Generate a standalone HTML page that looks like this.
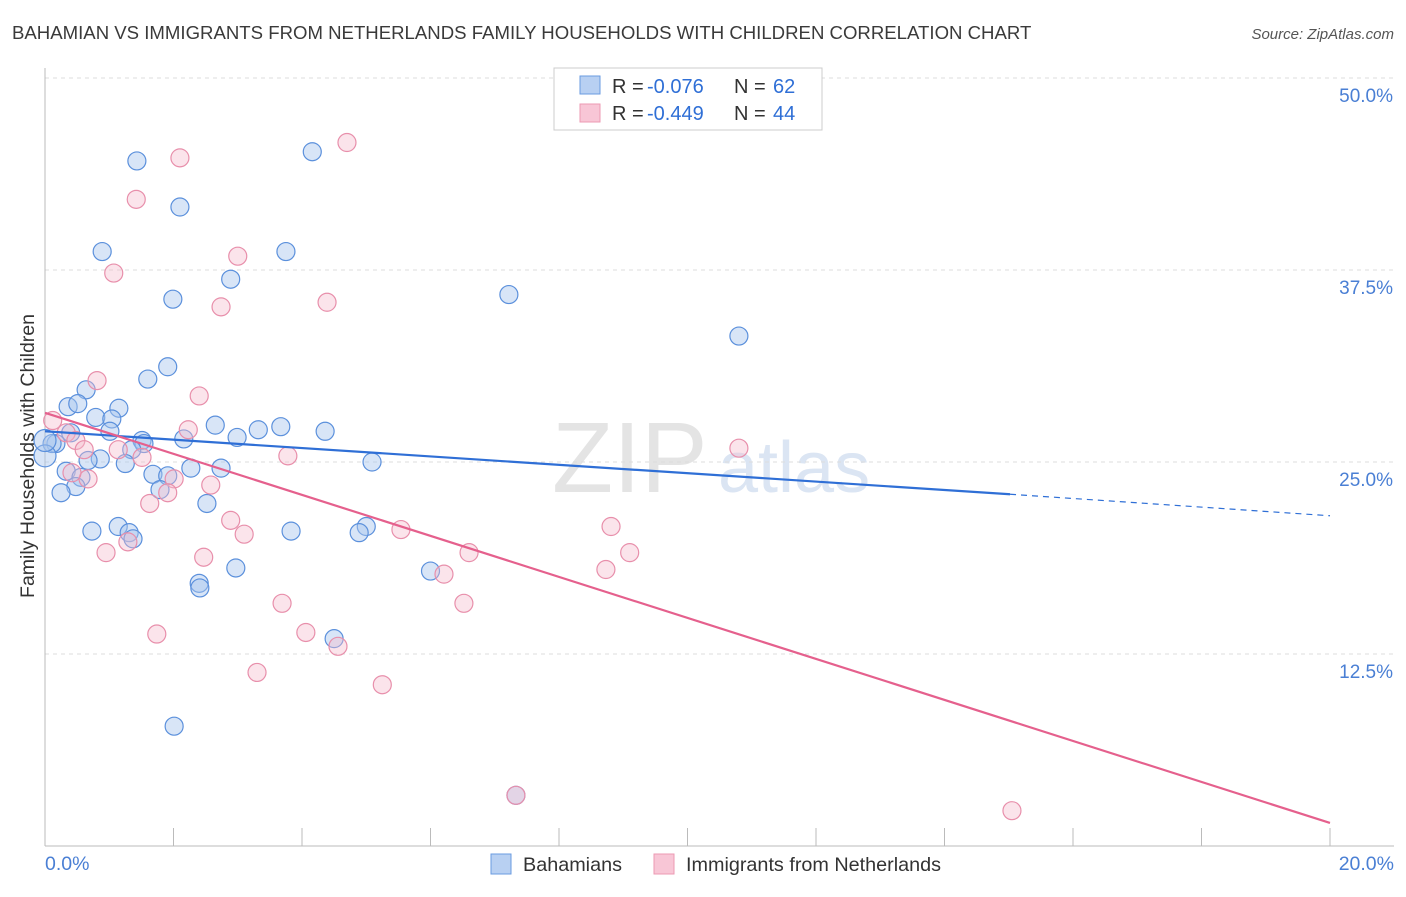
<!DOCTYPE html>
<html><head><meta charset="utf-8"><style>
body{margin:0;background:#fff;font-family:"Liberation Sans",sans-serif;}
svg text{font-family:"Liberation Sans",sans-serif;}
</style></head><body>
<svg id="chart" width="1406" height="892">
<text x="12" y="39" font-size="18.6" fill="#3a3a3a">BAHAMIAN VS IMMIGRANTS FROM NETHERLANDS FAMILY HOUSEHOLDS WITH CHILDREN CORRELATION CHART</text>
<text x="1394" y="39" font-size="15" fill="#555" font-style="italic" text-anchor="end">Source: ZipAtlas.com</text>
<text x="552" y="492" font-size="100" fill="#e4e4e4" font-family="Liberation Serif">ZIP</text>
<text x="718" y="492" font-size="72" fill="#dbe5f3">atlas</text>
<text transform="translate(34,456) rotate(-90)" font-size="19.5" fill="#333" text-anchor="middle">Family Households with Children</text>
<g id="grid"></g><g id="pts"></g><g id="lines"></g>
<g>
<rect x="554" y="68" width="268" height="62" fill="#fff" stroke="#ccc"/>
<rect x="580" y="76" width="20" height="18" fill="#b8d0f2" stroke="#6a9be0"/>
<rect x="580" y="104" width="20" height="18" fill="#f8c6d6" stroke="#ec9ab3"/>
<text x="612" y="93" font-size="20" fill="#333">R =</text>
<text x="647" y="93" font-size="20" fill="#2f6fd6">-0.076</text>
<text x="734" y="93" font-size="20" fill="#333">N =</text>
<text x="773" y="93" font-size="20" fill="#2f6fd6">62</text>
<text x="612" y="120" font-size="20" fill="#333">R =</text>
<text x="647" y="120" font-size="20" fill="#2f6fd6">-0.449</text>
<text x="734" y="120" font-size="20" fill="#333">N =</text>
<text x="773" y="120" font-size="20" fill="#2f6fd6">44</text>
</g>
<g>
<rect x="491" y="854" width="20" height="20" fill="#b8d0f2" stroke="#6a9be0"/>
<text x="523" y="871" font-size="19.8" fill="#333">Bahamians</text>
<rect x="654" y="854" width="20" height="20" fill="#f8c6d6" stroke="#ec9ab3"/>
<text x="686" y="871" font-size="19.8" fill="#333">Immigrants from Netherlands</text>
</g>
</svg>
<script>
const yTicks=[12.5,25,37.5,50];
const xTickLabels=["0.0%","20.0%"];
const blueX=[1.43,4.16,2.1,0.89,3.75,2.89,1.99,7.22,10.8,1.91,1.6,0.64,0.36,0.51,1.15,0.79,1.04,1.01,0.4,2.65,3.32,3.67,4.36,2.99,2.16,1.51,1.54,0.17,0.11,1.35,0.86,0.67,1.25,5.09,2.27,2.74,0.33,1.68,1.91,0.56,0.48,1.79,0.25,2.52,0.73,1.14,1.31,1.37,3.83,5,4.89,2.97,6.0,2.4,2.41,4.5,2.01,7.33,0,0];
const blueY=[44.6,45.2,41.6,38.7,38.7,36.9,35.6,35.9,33.2,31.2,30.4,29.7,28.6,28.8,28.5,27.9,27.8,27.0,26.9,27.4,27.1,27.3,27.0,26.6,26.5,26.4,26.2,26.2,26.2,25.8,25.2,25.1,24.9,25.0,24.6,24.6,24.4,24.2,24.1,24.0,23.4,23.2,23.0,22.3,20.5,20.8,20.4,20.0,20.5,20.8,20.4,18.1,17.9,17.1,16.8,13.5,7.8,3.3,25.4,26.4];
const pinkX=[4.7,2.1,1.42,1.07,3.0,2.74,4.39,0.81,2.4,0.12,0.33,2.23,0.48,0.61,1.14,1.51,2.01,0.67,0.42,10.8,3.78,2.58,1.91,1.63,2.89,3.1,1.29,0.95,2.47,5.54,8.81,9.1,6.6,8.73,6.21,3.69,6.52,1.74,4.06,4.56,3.3,5.25,7.33,15.05];
const pinkY=[45.8,44.8,42.1,37.3,38.4,35.1,35.4,30.3,29.3,27.7,26.9,27.1,26.4,25.8,25.8,25.3,23.9,23.9,24.3,25.9,25.4,23.5,23.0,22.3,21.2,20.3,19.8,19.1,18.8,20.6,20.8,19.1,19.1,18.0,17.7,15.8,15.8,13.8,13.9,13.0,11.3,10.5,3.3,2.3];
const blueTrend=[0,27.0,15.02,22.9,20,21.5];
const pinkTrend=[0,28.2,20,1.5];
const X=v=>45+v/20*1285, Y=v=>846-v*15.36;
const NS="http://www.w3.org/2000/svg";
function mk(t,a,p){const e=document.createElementNS(NS,t);for(const k in a)e.setAttribute(k,a[k]);p.appendChild(e);return e;}
const g=document.getElementById('grid');
yTicks.forEach(t=>{
 const l=mk('line',{x1:45,x2:1394,y1:Y(t),y2:Y(t),stroke:'#ddd','stroke-dasharray':'4,4'},g);
 
 
 const tx=mk('text',{x:1393,y:Y(t)+24,'font-size':19,fill:'#4a7fd4','text-anchor':'end'},g);
 tx.textContent=t.toFixed(1)+'%';
 
 
});
mk('line',{x1:45,x2:45,y1:68,y2:846,stroke:'#bbb'},g);
mk('line',{x1:45,x2:1394,y1:846,y2:846,stroke:'#bbb'},g);
for(let i=0;i<=10;i++){const x=X(i*2);mk('line',{x1:x,x2:x,y1:828,y2:846,stroke:'#bbb'},g);}
[[0,'start',45],[1,'end',1394]].forEach(([i,a,x])=>{const t=mk('text',{x:x,y:870,'font-size':19.5,fill:'#4a7fd4','text-anchor':a},g);t.textContent=xTickLabels[i];
 
 });
const p=document.getElementById('pts');
blueX.forEach((v,i)=>{const c=mk('circle',{cx:X(v),cy:Y(blueY[i]),r:(v===0?11:9),fill:'#a9c6ee','fill-opacity':0.45,stroke:'#5b90dc','stroke-width':1.2},p);
 
 });
pinkX.forEach((v,i)=>{const c=mk('circle',{cx:X(v),cy:Y(pinkY[i]),r:9,fill:'#f6bccd','fill-opacity':0.4,stroke:'#e88fab','stroke-width':1.2},p);
 
 });
const L=document.getElementById('lines');
const b1=mk('line',{x1:X(blueTrend[0]),y1:Y(blueTrend[1]),x2:X(blueTrend[2]),y2:Y(blueTrend[3]),stroke:'#2f6fd6','stroke-width':2.2},L);


const b2=mk('line',{x1:X(blueTrend[2]),y1:Y(blueTrend[3]),x2:X(blueTrend[4]),y2:Y(blueTrend[5]),stroke:'#2f6fd6','stroke-width':1.2,'stroke-dasharray':'6,5'},L);


const pl=mk('line',{x1:X(pinkTrend[0]),y1:Y(pinkTrend[1]),x2:X(pinkTrend[2]),y2:Y(pinkTrend[3]),stroke:'#e5608d','stroke-width':2.2},L);


</script>
</body></html>
